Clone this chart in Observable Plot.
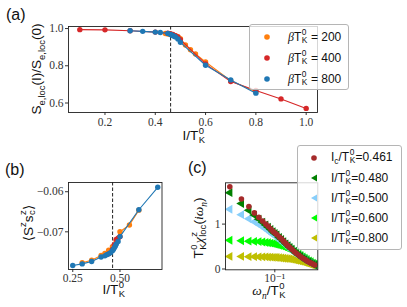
<!DOCTYPE html>
<html><head><meta charset="utf-8">
<script src="https://cdn.jsdelivr.net/npm/d3@7"></script>
<script src="https://cdn.jsdelivr.net/npm/@observablehq/plot@0.6"></script>
<style>
html,body{margin:0;padding:0;background:#fff;}
#root{position:relative;width:407px;height:307px;overflow:hidden;font-family:"Liberation Sans",Arial,sans-serif;color:#111;}
.panel{position:absolute;}
.lab{position:absolute;white-space:nowrap;transform:translate(-50%,-50%);font-size:13.5px;line-height:1;}
.rot{transform:translate(-50%,-50%) rotate(-90deg);}
.ss{display:inline-block;position:relative;height:0;vertical-align:baseline;}
.ss .u,.ss .d{position:absolute;left:0.5px;font-size:0.7em;line-height:1;white-space:nowrap;}
.ss .u{bottom:0.5em;}
.ss .d{bottom:-0.42em;}
.sb{font-size:0.7em;vertical-align:-0.4em;line-height:1;}
.sp{font-size:0.7em;vertical-align:0.7em;line-height:1;}
.m{font-family:"Liberation Serif","DejaVu Serif",serif;font-style:italic;}
.legend{position:absolute;background:rgba(255,255,255,0.8);border:1px solid #b5b5b5;border-radius:3px;box-sizing:border-box;}
.lt{position:absolute;transform:translateY(-50%);white-space:nowrap;font-size:12px;line-height:1;}
.lm{position:absolute;transform:translate(-50%,-50%);}
.tag{position:absolute;font-size:16px;line-height:1;transform:translateY(-50%);}
</style></head>
<body><div id="root"></div>
<script>
// ---------- data ----------
const Ic = 0.461;
// panel (a): S_e,loc(I)/S_e,loc(0)
const a200_I = [0.44, 0.45, 0.46, 0.47, 0.48, 0.49, 0.50, 0.52, 0.54, 0.56, 0.60, 0.70, 0.80];
const a200_S = [0.973, 0.971, 0.969, 0.966, 0.962, 0.956, 0.946, 0.912, 0.886, 0.863, 0.820, 0.720, 0.660];
const a400_I = [0.1, 0.2, 0.3, 0.4, 0.45, 0.46, 0.47, 0.48, 0.49, 0.50, 0.60, 0.70, 0.80, 0.90, 1.0];
const a400_S = [0.994, 0.993, 0.988, 0.981, 0.975, 0.972, 0.968, 0.962, 0.955, 0.940, 0.810, 0.715, 0.667, 0.622, 0.571];
const a800_I = [0.3, 0.35, 0.4, 0.42, 0.45, 0.46, 0.465, 0.47, 0.475, 0.48, 0.49, 0.50, 0.60, 0.70, 0.80];
const a800_S = [0.988, 0.985, 0.981, 0.979, 0.974, 0.968, 0.965, 0.962, 0.959, 0.955, 0.944, 0.926, 0.803, 0.724, 0.653];
// panel (b): <S^z s_c^z>
const b200_I = [0.30, 0.35, 0.40, 0.42, 0.44, 0.46, 0.48, 0.50, 0.55, 0.60];
const b200_C = [-0.0777, -0.0771, -0.0759, -0.0754, -0.0746, -0.0737, -0.0722, -0.0700, -0.0683, -0.0646];
const b400_I = [0.44, 0.46, 0.47, 0.48, 0.49, 0.50];
const b400_C = [-0.0755, -0.0744, -0.0732, -0.0719, -0.0716, -0.0712];
const b800_I = [0.25, 0.30, 0.35, 0.40, 0.42, 0.43, 0.44, 0.45, 0.46, 0.465, 0.47, 0.475, 0.48, 0.49, 0.50, 0.60, 0.70];
const b800_C = [-0.0784, -0.0780, -0.0774, -0.0763, -0.0760, -0.0757, -0.0755, -0.0752, -0.0747, -0.0744, -0.0740, -0.0736, -0.0731, -0.0724, -0.0712, -0.0645, -0.0589];
// panel (c): T_K chi_loc(i omega_n)
const omega = [0.0126, 0.0215, 0.0303, 0.039, 0.048, 0.057, 0.066, 0.074, 0.083, 0.092, 0.101, 0.11, 0.123, 0.136, 0.15, 0.166, 0.183, 0.2, 0.22, 0.245, 0.27, 0.3, 0.33, 0.365, 0.4, 0.44, 0.485, 0.53, 0.58, 0.63];
const chi461 = [1.83, 1.56, 1.39, 1.25, 1.15, 1.07, 1.00, 0.95, 0.89, 0.84, 0.80, 0.77, 0.71, 0.67, 0.62, 0.57, 0.52, 0.48, 0.44, 0.39, 0.35, 0.31, 0.27, 0.24, 0.21, 0.18, 0.15, 0.13, 0.11, 0.09];
const chi480 = [1.70, 1.46, 1.31, 1.20, 1.11, 1.04, 0.98, 0.93, 0.88, 0.83, 0.79, 0.76, 0.70, 0.66, 0.61, 0.56, 0.52, 0.48, 0.44, 0.39, 0.35, 0.31, 0.28, 0.24, 0.21, 0.18, 0.16, 0.13, 0.11, 0.09];
const chi500 = [1.33, 1.21, 1.12, 1.05, 0.99, 0.94, 0.89, 0.85, 0.81, 0.77, 0.74, 0.71, 0.66, 0.62, 0.58, 0.54, 0.50, 0.46, 0.42, 0.38, 0.34, 0.30, 0.27, 0.24, 0.21, 0.18, 0.15, 0.13, 0.11, 0.09];
const chi600 = [0.64, 0.63, 0.62, 0.615, 0.61, 0.60, 0.59, 0.585, 0.575, 0.565, 0.555, 0.545, 0.53, 0.515, 0.50, 0.48, 0.46, 0.44, 0.42, 0.39, 0.36, 0.33, 0.30, 0.27, 0.24, 0.21, 0.18, 0.16, 0.13, 0.11];
const chi800 = [0.28, 0.28, 0.275, 0.275, 0.27, 0.27, 0.27, 0.265, 0.265, 0.26, 0.26, 0.255, 0.25, 0.245, 0.24, 0.235, 0.23, 0.225, 0.215, 0.205, 0.195, 0.185, 0.17, 0.16, 0.145, 0.13, 0.115, 0.10, 0.09, 0.08];
// ticks and legend labels
const aXTicks = [0.2, 0.4, 0.6, 0.8, 1.0];
const aYTicks = [0.6, 0.8, 1.0];
const bXTicks = [0.25, 0.5];
const bYTicks = [-0.07, -0.06];
const cXTicks = [0.1];
const cYTicks = [0, 1];
const betaLabels = ["200", "400", "800"];
const cLabels = ["0.461", "0.480", "0.500", "0.600", "0.800"];

// ---------- helpers ----------
const root = document.getElementById("root");
const pairs = (xs, ys) => xs.map((x, i) => [x, ys[i]]);
const ss = (up, down, w) => `<span class="ss" style="width:${w}em"><span class="u">${up}</span><span class="d">${down}</span></span>`;
const TK = 'T' + ss("0", "K", 0.52);
const supDigits = {"-":"⁻","0":"⁰","1":"¹","2":"²","3":"³"};
const pow10 = d => "10" + String(Math.round(Math.log10(d))).split("").map(c => supDigits[c] || c).join("");
const minusFmt = k => d => (d < 0 ? "−" : "") + Math.abs(d).toFixed(k);
const baseStyle = {fontFamily: '"Liberation Serif", "DejaVu Serif", serif', fontSize: "11.5px", color: "#333", background: "transparent", overflow: "visible"};

function place(el, left, top) {
  const w = document.createElement("div");
  w.className = "panel"; w.style.left = left + "px"; w.style.top = top + "px";
  w.appendChild(el); root.appendChild(w);
}
function label(html, x, y, rot) {
  const d = document.createElement("div");
  d.className = "lab" + (rot ? " rot" : "");
  d.style.left = x + "px"; d.style.top = y + "px";
  d.innerHTML = html; root.appendChild(d);
}
function tag(t, x, y) {
  const d = document.createElement("div");
  d.className = "tag"; d.style.left = x + "px"; d.style.top = y + "px";
  d.textContent = t; root.appendChild(d);
}

// ---------- panel (a) ----------
const aSeries = [[a200_I, a200_S, "#ff7f0e"], [a400_I, a400_S, "#d62728"], [a800_I, a800_S, "#1f77b4"]];
place(Plot.plot({
  width: 330, height: 145,
  marginLeft: 68, marginRight: 13, marginTop: 26, marginBottom: 33,
  style: baseStyle,
  x: {domain: [0.055, 1.045]},
  y: {domain: [0.549, 1.011]},
  marks: [
    Plot.ruleX([Ic], {stroke: "#222", strokeDasharray: "3.5,2", strokeWidth: 1}),
    ...aSeries.flatMap(([xs, ys, c]) => [
      Plot.line(pairs(xs, ys), {stroke: c, strokeWidth: 1.1}),
      Plot.dot(pairs(xs, ys), {fill: c, r: 2.7})
    ]),
    Plot.axisX({ticks: aXTicks, tickFormat: d => d.toFixed(1), tickSize: 3, tickPadding: 2, label: null}),
    Plot.axisY({ticks: aYTicks, tickFormat: d => d.toFixed(1), tickSize: 3, tickPadding: 2, label: null}),
    Plot.frame({stroke: "#222", strokeWidth: 0.9})
  ]
}), 0, 0);

// ---------- panel (b) ----------
const bSeries = [[b200_I, b200_C, "#ff7f0e"], [b400_I, b400_C, "#d62728"], [b800_I, b800_C, "#1f77b4"]];
place(Plot.plot({
  width: 175, height: 155,
  marginLeft: 68, marginRight: 13.5, marginTop: 32, marginBottom: 36,
  style: baseStyle,
  x: {domain: [0.2275, 0.7225]},
  y: {domain: [-0.0794, -0.0577]},
  marks: [
    Plot.ruleX([Ic], {stroke: "#222", strokeDasharray: "3.5,2", strokeWidth: 1}),
    ...bSeries.flatMap(([xs, ys, c]) => [
      Plot.line(pairs(xs, ys), {stroke: c, strokeWidth: 1.1}),
      Plot.dot(pairs(xs, ys), {fill: c, r: 2.7})
    ]),
    Plot.axisX({ticks: bXTicks, tickFormat: d => d.toFixed(2), tickSize: 3, tickPadding: 1, label: null}),
    Plot.axisY({ticks: bYTicks, tickFormat: minusFmt(2), tickSize: 3, tickPadding: 2, label: null}),
    Plot.frame({stroke: "#222", strokeWidth: 0.9})
  ]
}), 0, 150);

// ---------- panel (c) ----------
const cSeries = [
  [chi800, "#bfbf00", "triangle"], [chi600, "#00ff00", "triangle"], [chi500, "#87cefa", "triangle"],
  [chi480, "#008000", "triangle"], [chi461, "#a52a2a", "circle"]
];
place(Plot.plot({
  width: 145, height: 155,
  marginLeft: 45, marginRight: 7.7, marginTop: 32.3, marginBottom: 35.7,
  style: baseStyle,
  x: {type: "log", domain: [0.01033, 0.7244]},
  y: {domain: [-0.018, 1.92]},
  marks: [
    ...cSeries.map(([ys, c, s]) => Plot.dot(pairs(omega, ys), {
      fill: c, symbol: s, r: s === "circle" ? 2.8 : 3.3, rotate: s === "circle" ? 0 : -90
    })),
    Plot.axisX({ticks: cXTicks, tickFormat: pow10, tickSize: 3, tickPadding: 1, label: null}),
    Plot.axisY({ticks: cYTicks, tickFormat: d => String(d), tickSize: 3, tickPadding: 2, label: null}),
    Plot.frame({stroke: "#222", strokeWidth: 0.9})
  ]
}), 180, 150);

// ---------- labels ----------
tag("(a)", 6, 15);
tag("(b)", 5, 170);
tag("(c)", 188, 168);
label('S<span class="sb">e,loc</span>(I)/S<span class="sb">e,loc</span>(0)', 38, 69, true);
label('I/' + TK, 194, 136);
label('<span class="m" style="font-style:normal">⟨</span>S<span class="sp">z</span>s' + ss("z", "c", 0.4) + '<span class="m" style="font-style:normal">⟩</span>', 27, 223, true);
label('I/' + TK, 114, 290);
label(TK + '<span class="m">χ</span>' + ss("z", "loc", 0.95) + '(<span class="m">i</span><span class="m">ω</span><span class="sb m">n</span>)', 201, 228, true);
label('<span class="m">ω</span><span class="sb m">n</span>/' + TK, 269, 293);

// ---------- legends ----------
function legend(left, top, w, h, rows, mx, tx) {
  const box = document.createElement("div");
  box.className = "legend";
  Object.assign(box.style, {left: left + "px", top: top + "px", width: w + "px", height: h + "px"});
  rows.forEach(r => {
    const m = document.createElement("div");
    m.className = "lm"; m.style.left = mx + "px"; m.style.top = r.y + "px";
    m.innerHTML = r.marker;
    const t = document.createElement("div");
    t.className = "lt"; t.style.left = tx + "px"; t.style.top = r.y + "px";
    t.innerHTML = r.html;
    box.appendChild(m); box.appendChild(t);
  });
  root.appendChild(box);
}
const circ = c => `<svg width="8" height="8" style="display:block"><circle cx="4" cy="4" r="2.8" fill="${c}"/></svg>`;
const triL = c => `<svg width="8" height="8" style="display:block"><polygon points="1,4 7,0.6 7,7.4" fill="${c}"/></svg>`;
const aCols = ["#ff7f0e", "#d62728", "#1f77b4"];
legend(249, 24, 100, 66, betaLabels.map((b, i) => ({
  y: 12 + 21 * i, marker: circ(aCols[i]),
  html: '<span class="m">β</span>' + TK + ' = ' + b
})), 17, 38);
const cCols = ["#a52a2a", "#008000", "#87cefa", "#00ff00", "#bfbf00"];
legend(297, 145, 105, 105, cLabels.map((v, i) => ({
  y: 11.5 + 20 * i, marker: i === 0 ? circ(cCols[i]) : triL(cCols[i]),
  html: (i === 0 ? 'I<span class="sb">c</span>/' : 'I/') + TK + '=' + v
})), 16, 33);
</script>
</body></html>
